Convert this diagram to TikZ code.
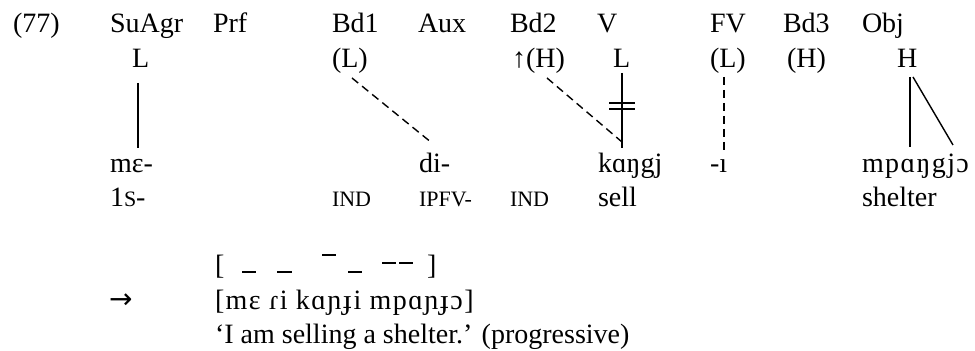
\documentclass[tikz,border=0pt]{standalone}
\usepackage{fontspec}
\setmainfont{Liberation Serif}
\newfontfamily\arrowfont{DejaVu Sans}
\newfontfamily\ipawide[LetterSpace=5]{Liberation Serif}
\newcommand\smc[1]{{\fontsize{11}{13}\selectfont #1}}
\begin{document}
\begin{tikzpicture}[x=0.5pt,y=-0.5pt,
  txt/.style={inner sep=0pt,outer sep=0pt,anchor=base west,font=\fontsize{14}{17}\selectfont},
  assoc/.style={line width=0.7pt},
  floating/.style={line width=0.7pt,dash pattern=on 4pt off 2.5pt},
  tonebar/.style={line width=0.75pt},
  delink/.style={line width=0.8pt}]
\useasboundingbox (0,0) rectangle (975,351);
% row 1: slots
\node[txt] (ex)   at (13,33)  {(77)};
\node[txt] (suagr) at (110,33) {SuAgr};
\node[txt] (prf)  at (213,33) {Prf};
\node[txt] (bdone) at (332,33) {Bd1};
\node[txt] (aux)  at (418,33) {Aux};
\node[txt] (bdtwo) at (510,33) {Bd2};
\node[txt] (verb) at (597,33) {V};
\node[txt] (fv)   at (710,33) {FV};
\node[txt] (bdthree) at (783,33) {Bd3};
\node[txt] (obj)  at (862,33) {Obj};
% row 2: tones
\node[txt] (tsu)  at (132,68) {L};
\node[txt] (tbdone) at (332,68) {(L)};
\node[txt] (tbdtwo) at (512,68) {↑(H)};
\node[txt] (tverb) at (613,68) {L};
\node[txt] (tfv)  at (710,68) {(L)};
\node[txt] (tbdthree) at (787,68) {(H)};
\node[txt] (tobj) at (897,68) {H};
% row 3: segments
\node[txt] (sme)  at (110,173) {mɛ-};
\node[txt] (sdi)  at (419,173) {di-};
\node[txt] (skang) at (598,173) {kɑŋgj};
\node[txt] (si)   at (710,173) {-ı};
\node[txt,font=\fontsize{14}{17}\ipawide] (smpa) at (862,173) {mpɑŋgjɔ};
% row 4: glosses
\node[txt] (gone) at (110,207) {1\smc{S}-};
\node[txt] (gind) at (332,207) {\smc{IND}};
\node[txt] (gipfv) at (419,207) {\smc{IPFV-}};
\node[txt] (gindtwo) at (510,207) {\smc{IND}};
\node[txt] (gsell) at (598,207) {sell};
\node[txt] (gshelter) at (862,207) {shelter};
% surface tones
\node[txt] (lbr) at (215,275) {[};
\node[txt] (rbr) at (427,275) {]};
\draw[tonebar] (242,272) -- (256,272);
\draw[tonebar] (277,272) -- (292,272);
\draw[tonebar] (322,255) -- (336,255);
\draw[tonebar] (348,272) -- (362,272);
\draw[tonebar] (382,263) -- (396,263);
\draw[tonebar] (399,263) -- (413,263);
% output
\node[txt,font=\fontsize{14}{17}\arrowfont] (arr) at (109,309) {→};
\node[txt,font=\fontsize{14}{17}\ipawide] (surf) at (215,310) {[mɛ ɾi kɑɲɟi mpɑɲɟɔ]};
\node[txt] (trans) at (215,344) {‘I am selling a shelter.’ (progressive)};
% association lines
\coordinate (a1) at (138,83);  \coordinate (b1) at (138,148);
\coordinate (a2) at (352,78);  \coordinate (b2) at (432,143);
\coordinate (a3) at (547,78);  \coordinate (b3) at (622,142);
\coordinate (a4) at (622,73);  \coordinate (b4) at (622,148);
\coordinate (a5) at (724,77);  \coordinate (b5) at (724,152);
\coordinate (a6) at (910,77);  \coordinate (b6) at (910,147);
\coordinate (a7) at (913,77);  \coordinate (b7) at (953,145);
\draw[assoc] (a1) -- (b1);
\draw[floating] (a2) -- (b2);
\draw[floating] (a3) -- (b3);
\draw[assoc] (a4) -- (b4);
\draw[floating] (a5) -- (b5);
\draw[assoc] (a6) -- (b6);
\draw[assoc] (a7) -- (b7);
\coordinate (d1) at (609,103); \coordinate (d2) at (635,103);
\coordinate (d3) at (609,109); \coordinate (d4) at (635,109);
\draw[delink] (d1) -- (d2);
\draw[delink] (d3) -- (d4);
\end{tikzpicture}
\end{document}
